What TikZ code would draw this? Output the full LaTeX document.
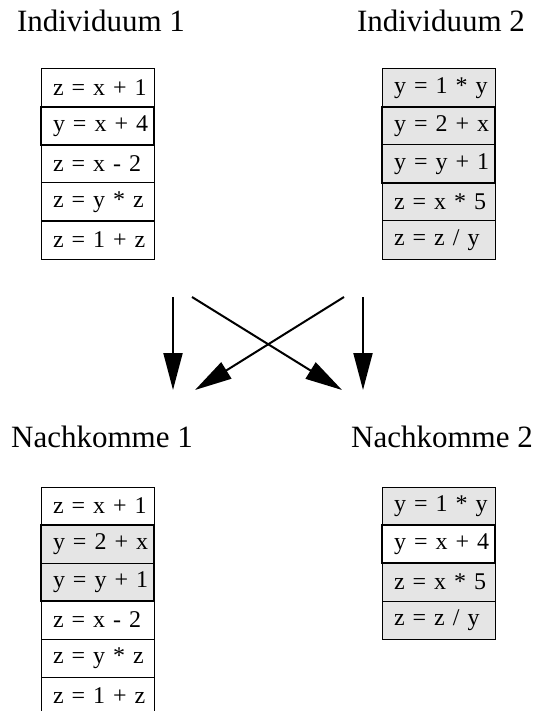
\documentclass[tikz,border=0pt]{standalone}
\usepackage{fontspec}
\setmainfont{Liberation Serif}
\usetikzlibrary{positioning,arrows.meta}
\definecolor{genegray}{gray}{0.9}
\tikzset{
  gene/.style={draw, line width=0.5pt, outer sep=0pt, inner xsep=0pt, inner ysep=0pt,
    minimum height=19pt, text width=56.5pt, align=left,
    font=\fontsize{12}{14}\selectfont, execute at begin node=\hspace*{6pt}},
  graygene/.style={gene, fill=genegray},
  title/.style={anchor=base, font=\fontsize{15.5}{18}\selectfont},
  swap/.style={-{Triangle[length=18.5pt,width=9.5pt]}, line width=1pt},
  marked/.style={line width=1.4pt}
}
\begin{document}
\begin{tikzpicture}[x=0.5pt, y=-0.5pt]
    \useasboundingbox (0,0) rectangle (533,711);
    \node [title] (ind1) at (101,32) {Individuum 1};
    \node [title] (ind2) at (441,32) {Individuum 2};
    \node [title] (off1) at (102,447) {Nachkomme 1};
    \node [title] (off2) at (442,447) {Nachkomme 2};

    \node [gene, anchor=north west] (a1) at (41,69) {z = x + 1};
    \node [gene, below=0pt of a1] (a2) {y = x + 4};
    \node [gene, below=0pt of a2] (a3) {z = x - 2};
    \node [gene, below=0pt of a3] (a4) {z = y * z};
    \node [gene, below=0pt of a4] (a5) {z = 1 + z};
    \draw [marked] (a2.north west) rectangle (a2.south east);

    \node [graygene, anchor=north west] (b1) at (382,69) {y = 1 * y};
    \node [graygene, below=0pt of b1] (b2) {y = 2 + x};
    \node [graygene, below=0pt of b2] (b3) {y = y + 1};
    \node [graygene, below=0pt of b3] (b4) {z = x * 5};
    \node [graygene, below=0pt of b4] (b5) {z = z / y};
    \draw [marked] (b2.north west) rectangle (b3.south east);

    \coordinate (s1) at (173,297);
    \coordinate (s2) at (192,297);
    \coordinate (s3) at (344,297);
    \coordinate (s4) at (363,297);
    \coordinate (e1) at (173,390);
    \coordinate (e2) at (342,390);
    \coordinate (e3) at (195,390);
    \coordinate (e4) at (363,390);
    \draw [swap] (s1) -- (e1);
    \draw [swap] (s2) -- (e2);
    \draw [swap] (s3) -- (e3);
    \draw [swap] (s4) -- (e4);

    \node [gene, anchor=north west] (c1) at (41,487) {z = x + 1};
    \node [graygene, below=0pt of c1] (c2) {y = 2 + x};
    \node [graygene, below=0pt of c2] (c3) {y = y + 1};
    \node [gene, below=0pt of c3] (c4) {z = x - 2};
    \node [gene, below=0pt of c4] (c5) {z = y * z};
    \node [gene, below=0pt of c5] (c6) {z = 1 + z};
    \draw [marked] (c2.north west) rectangle (c3.south east);

    \node [graygene, anchor=north west] (d1) at (382,487) {y = 1 * y};
    \node [gene, below=0pt of d1] (d2) {y = x + 4};
    \node [graygene, below=0pt of d2] (d3) {z = x * 5};
    \node [graygene, below=0pt of d3] (d4) {z = z / y};
    \draw [marked] (d2.north west) rectangle (d2.south east);
\end{tikzpicture}
\end{document}
